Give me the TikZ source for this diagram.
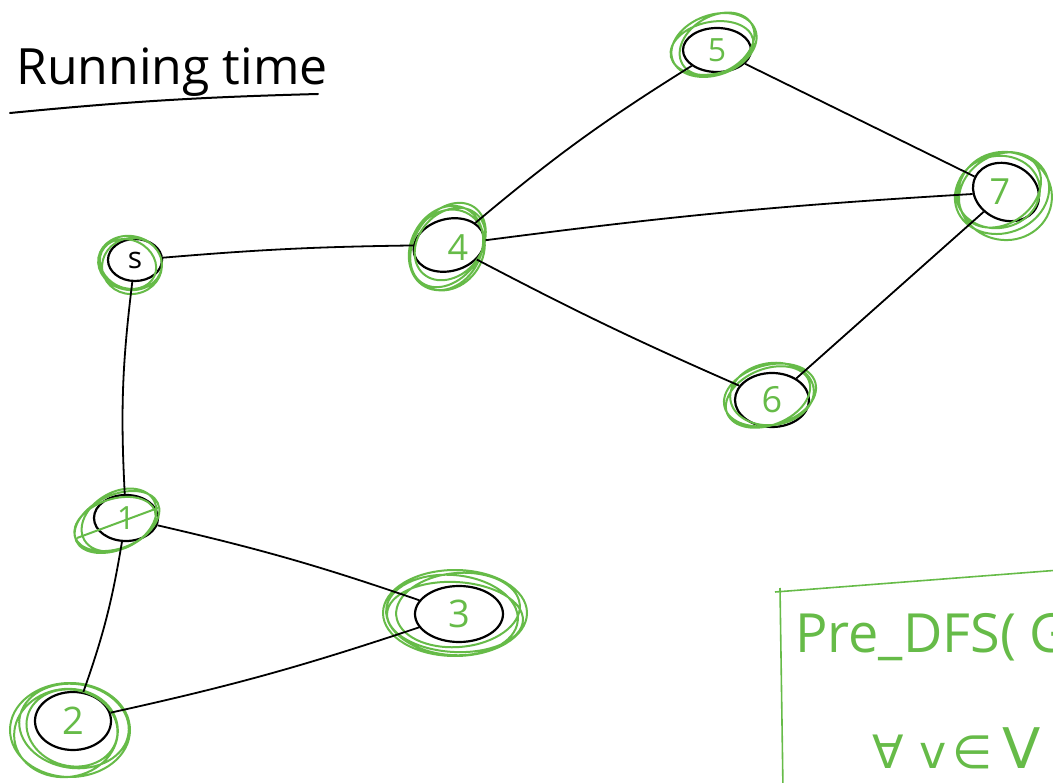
\documentclass[tikz,border=0pt]{standalone}
\usepackage{fontspec}
\setmainfont{Open Sans}
\newfontfamily\dejavu{DejaVu Sans}
\usetikzlibrary{shapes.geometric}
\definecolor{gr}{RGB}{102,187,72}
\begin{document}
\begin{tikzpicture}[x=1pt,y=-1pt,
  bn/.style={draw=black, line width=2.2pt, ellipse, inner sep=0pt, text=gr,
    font=\fontsize{32}{32}\selectfont},
  ed/.style={line width=1.8pt, black},
  sc/.style={draw=gr, line width=2pt},
  gtext/.style={text=gr, inner sep=0pt, anchor=base west},
]
\useasboundingbox (0,0) rectangle (1053,783);
\clip (0,0) rectangle (1053,783);

% title
\node[inner sep=0pt, anchor=base west, font=\fontsize{50}{50}\selectfont] (title) at (16,85) {Running time};
\coordinate (ul1) at (10,113);
\coordinate (ul2) at (318,94);
\draw[line width=2pt, line cap=round] (ul1) to[bend left=2] (ul2);

% nodes (black ellipses)
\node[bn, minimum width=54, minimum height=42, text=black, font=\fontsize{30}{30}\selectfont] (s) at (135,260) {s};
\node[bn, minimum width=72, minimum height=52, rotate=15] (n4) at (449,245) {};
\node[text=gr, font=\fontsize{36}{36}\selectfont] (l4) at (458,248) {4};
\node[bn, minimum width=68, minimum height=44] (n5) at (717,50) {5};
\node[bn, minimum width=68, minimum height=56, rotate=-25] (n7) at (1006,192) {};
\node[text=gr, font=\fontsize{36}{36}\selectfont] (l7) at (1000,192) {7};
\node[bn, minimum width=74, minimum height=54, font=\fontsize{36}{36}\selectfont] (n6) at (772,400) {6};
\node[bn, minimum width=64, minimum height=46] (n1) at (126,518) {1};
\node[bn, minimum width=88, minimum height=56, font=\fontsize{38}{38}\selectfont] (n3) at (459,614) {3};
\node[bn, minimum width=76, minimum height=58, font=\fontsize{38}{38}\selectfont] (n2) at (73,721) {2};

% green scribbles
\draw[sc] (130,263) ellipse[x radius=32, y radius=27, rotate=-10]
          (132,266) ellipse[x radius=30, y radius=28, rotate=10]
          (128,264) ellipse[x radius=29, y radius=24, rotate=-25];
\draw[sc] (448,245) ellipse[x radius=46, y radius=33, rotate=55]
          (446,248) ellipse[x radius=44, y radius=35, rotate=62]
          (450,244) ellipse[x radius=40, y radius=31, rotate=48]
          (447,250) ellipse[x radius=42, y radius=36, rotate=58];
\draw[sc] (714,45) ellipse[x radius=44, y radius=30, rotate=20]
          (717,44) ellipse[x radius=40, y radius=28, rotate=30]
          (712,48) ellipse[x radius=42, y radius=26, rotate=12];
\draw[sc] (1002,193) ellipse[x radius=48, y radius=40, rotate=20]
          (1000,190) ellipse[x radius=44, y radius=34, rotate=35]
          (1005,196) ellipse[x radius=47, y radius=44, rotate=-10]
          (998,192) ellipse[x radius=42, y radius=36, rotate=10];
\draw[sc] (770,395) ellipse[x radius=47, y radius=30, rotate=15]
          (768,397) ellipse[x radius=44, y radius=28, rotate=22]
          (772,394) ellipse[x radius=42, y radius=31, rotate=8];
\draw[sc] (117,522) ellipse[x radius=45, y radius=27, rotate=25]
          (119,520) ellipse[x radius=40, y radius=28, rotate=30]
          (115,524) ellipse[x radius=42, y radius=25, rotate=18];
\draw[sc] (77,538) -- (158,508);
\draw[sc] (455,613) ellipse[x radius=72, y radius=43, rotate=0]
          (452,615) ellipse[x radius=66, y radius=40, rotate=-5]
          (458,610) ellipse[x radius=62, y radius=37, rotate=5]
          (455,617) ellipse[x radius=68, y radius=35, rotate=-3];
\draw[sc] (70,730) ellipse[x radius=60, y radius=47, rotate=0]
          (74,726) ellipse[x radius=55, y radius=42, rotate=-8]
          (66,733) ellipse[x radius=52, y radius=44, rotate=8]
          (72,728) ellipse[x radius=46, y radius=38, rotate=-15];

% edges
\draw[ed] (s) to[bend left=2] (n4);
\draw[ed] (s) to[bend right=5] (n1);
\draw[ed] (n4) to[bend left=4] (n5);
\draw[ed] (n5) -- (n7);
\draw[ed] (n4) to[bend left=2] (n7);
\draw[ed] (n4) to[bend right=2] (n6);
\draw[ed] (n7) -- (n6);
\draw[ed] (n1) to[bend left=3] (n3);
\draw[ed] (n1) to[bend left=5] (n2);
\draw[ed] (n2) to[bend right=3] (n3);

% green box
\coordinate (b1) at (775,592);
\coordinate (b2) at (1060,570);
\coordinate (b3) at (780,588);
\coordinate (b4) at (783,790);
\draw[draw=gr, line width=1.6pt] (b1) -- (b2);
\draw[draw=gr, line width=1.6pt] (b3) -- (b4);
\node[gtext, font=\fontsize{54}{54}\selectfont] (pre) at (795,652) {Pre\_DFS( G};
\node[gtext, font=\dejavu\fontsize{46}{46}\selectfont] (forall) at (872,768)
  {∀\hspace{16pt}v\hspace{6pt}∈\hspace{10pt}{\fontsize{56}{56}\selectfont V}};
\end{tikzpicture}
\end{document}
